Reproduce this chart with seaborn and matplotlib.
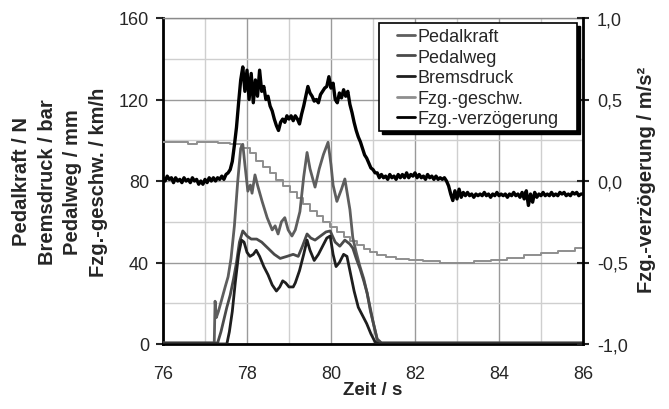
import numpy as np
import matplotlib
matplotlib.use("Agg")
import matplotlib.pyplot as plt
from matplotlib.patches import Rectangle
from matplotlib import font_manager
import seaborn as sns

# ---------------- data ----------------
labels = ["Pedalkraft", "Pedalweg", "Bremsdruck", "Fzg.-geschw.", "Fzg.-verzögerung"]

kraft_t = [76.0, 77.22, 77.24, 77.27, 77.32, 77.40, 77.48, 77.55, 77.62, 77.70, 77.78, 77.85, 77.90,
           77.95, 78.02, 78.08, 78.12, 78.19, 78.25, 78.36, 78.48, 78.60, 78.67, 78.74, 78.82, 78.90,
           78.98, 79.07, 79.15, 79.26, 79.35, 79.43, 79.50, 79.62, 79.72, 79.82, 79.93, 80.00, 80.05,
           80.14, 80.25, 80.33, 80.45, 80.52, 80.60, 80.69, 80.78, 80.86, 80.94, 81.00, 81.10, 81.20, 86.0]
kraft_v = [0.5, 0.5, 21, 13, 16, 22, 28, 33, 42, 58, 80, 96, 98,
           88, 75, 78, 74, 83, 78, 70, 62, 56, 58, 54, 60, 62,
           56, 53, 56, 65, 82, 94, 86, 77, 86, 93, 99, 88, 78,
           70, 76, 81, 66, 52, 45, 38, 32, 25, 16, 11, 2.5, 0.5, 0.5]

weg_t = [76.0, 77.30, 77.38, 77.45, 77.52, 77.60, 77.68, 77.75, 77.82, 77.90, 78.00, 78.10, 78.23,
         78.35, 78.50, 78.65, 78.79, 78.95, 79.10, 79.22, 79.32, 79.43, 79.52, 79.62, 79.75, 79.88,
         79.98, 80.10, 80.21, 80.33, 80.45, 80.52, 80.60, 80.69, 80.78, 80.86, 80.94, 81.00, 81.10,
         81.20, 86.0]
weg_v = [0.5, 0.5, 6, 12, 18, 24, 32, 40, 50, 55.5, 53, 51.5, 51.5,
         50, 47, 44, 42, 43, 44, 43, 48, 54, 52, 51, 53, 55,
         55.5, 50, 48, 51, 49, 47, 42, 37, 31, 25, 17, 11, 2, 0.5, 0.5]

druck_t = [76.0, 77.52, 77.58, 77.65, 77.72, 77.80, 77.87, 77.93, 78.00, 78.07, 78.15, 78.22, 78.30,
           78.40, 78.50, 78.60, 78.70, 78.78, 78.85, 78.92, 79.00, 79.10, 79.15, 79.25, 79.35, 79.43,
           79.50, 79.60, 79.70, 79.80, 79.90, 79.98, 80.05, 80.12, 80.20, 80.30, 80.38, 80.45, 80.55,
           80.65, 80.75, 80.85, 80.95, 81.05, 81.15, 86.0]
druck_v = [0, 0, 6, 16, 30, 44, 51, 50, 45, 43, 44, 46, 43,
           38, 34, 29, 26, 28, 31, 30, 28, 28, 30, 36, 44, 51,
           46, 41, 44, 48, 52, 53, 44, 38, 40, 44, 43, 36, 26,
           18, 14, 10, 5, 1, 0, 0]

geschw_t = [76.0, 76.6, 76.8, 77.3, 77.6, 77.85, 77.90, 78.06, 78.22, 78.38, 78.54, 78.70, 78.86,
            79.02, 79.18, 79.34, 79.50, 79.66, 79.82, 79.98, 80.14, 80.30, 80.46, 80.62, 80.78,
            80.94, 81.10, 81.30, 81.55, 81.85, 82.20, 82.60, 83.00, 83.40, 83.80, 84.20, 84.60,
            85.00, 85.40, 85.80, 86.0]
geschw_v = [99, 98.3, 99, 98.5, 98, 97, 96, 93.5, 90, 87, 84, 80.5, 77.5,
            74.5, 71.5, 68.5, 65.5, 63, 60, 57.5, 55, 52.5, 50.5, 48.5, 46.5,
            45, 43.5, 42.5, 41.5, 41, 40.5, 40, 40, 40.5, 41, 42, 43.5,
            44.5, 45.5, 47, 47.5]

# deceleration in m/s^2, one value every 0.05 s from 76.00 to 86.00
verz_v = [
    0.02, 0.0, 0.03, 0.01, 0.02, -0.01, 0.02, 0.0, 0.01, -0.01, 0.02, 0.0, 0.01, -0.01, 0.02, 0.0, 0.01, -0.02, 0.0, -0.02,
    0.01, -0.01, 0.02, 0.0, 0.02, 0.0, 0.02, 0.01, 0.03, 0.01, 0.04, 0.05, 0.07, 0.12, 0.22, 0.33, 0.48, 0.62, 0.70, 0.55,
    0.68, 0.50, 0.66, 0.48, 0.62, 0.52, 0.68, 0.55, 0.58, 0.50, 0.52, 0.46, 0.43, 0.38, 0.34, 0.31, 0.36, 0.38, 0.36, 0.40,
    0.38, 0.40, 0.37, 0.40, 0.38, 0.35, 0.41, 0.46, 0.52, 0.58, 0.54, 0.52, 0.49, 0.50, 0.48, 0.53, 0.55, 0.57, 0.58, 0.64,
    0.57, 0.60, 0.50, 0.48, 0.54, 0.51, 0.56, 0.52, 0.55, 0.47, 0.42, 0.36, 0.31, 0.27, 0.24, 0.20, 0.16, 0.14, 0.11, 0.08,
    0.07, 0.05, 0.05, 0.02, 0.04, 0.02, 0.03, 0.01, 0.04, 0.02, 0.03, 0.01, 0.04, 0.02, 0.04, 0.02, 0.05, 0.02, 0.04, 0.03,
    0.05, 0.02, 0.04, 0.02, 0.03, 0.01, 0.04, 0.02, 0.03, 0.01, 0.03, 0.01, 0.02, 0.01, 0.02, 0.0, -0.03, -0.08, -0.12, -0.06,
    -0.11, -0.05, -0.10, -0.07, -0.09, -0.07, -0.09, -0.08, -0.10, -0.08, -0.09, -0.08, -0.09, -0.07, -0.09, -0.08, -0.10, -0.08, -0.09, -0.07,
    -0.09, -0.08, -0.09, -0.08, -0.10, -0.08, -0.09, -0.07, -0.09, -0.08, -0.10, -0.07, -0.11, -0.06, -0.15, -0.08, -0.13, -0.07, -0.10, -0.08,
    -0.09, -0.07, -0.09, -0.08, -0.09, -0.07, -0.09, -0.08, -0.09, -0.07, -0.08, -0.07, -0.09, -0.08, -0.09, -0.07, -0.08, -0.07, -0.09, -0.08,
    -0.08,
]
verz_t = list(np.round(np.linspace(76.0, 86.0, len(verz_v)), 2))

x_ticks = [76, 78, 80, 82, 84, 86]
y_ticks = [0, 40, 80, 120, 160]
y2_ticks = [-1.0, -0.5, 0.0, 0.5, 1.0]
y2_ticklabels = ["-1,0", "-0,5", "0,0", "0,5", "1,0"]

# ---------------- style ----------------
sns.set_style("white")
plt.rcParams["font.family"] = ["Liberation Sans", "DejaVu Sans"]
plt.rcParams["axes.unicode_minus"] = False

installed = {f.name for f in font_manager.fontManager.ttflist}
if "Liberation Sans Narrow" in installed:
    leg_family, leg_size = ["Liberation Sans Narrow", "DejaVu Sans"], 15.5
    leg_hl, leg_tp, leg_ls, leg_top = 0.84, 0.14, 0.03, 27
else:
    leg_family, leg_size = ["Liberation Sans", "DejaVu Sans"], 13
    leg_hl, leg_tp, leg_ls, leg_top = 1.0, 0.15, 0.2, 29

W, H = 669, 410
fig = plt.figure(figsize=(W / 100, H / 100), dpi=100)
ax = fig.add_axes([163 / W, 1 - 345 / H, 420 / W, 326 / H])
ax2 = ax.twinx()

colors = ["#5e5e5e", "#4a4a4a", "#1e1e1e", "#8e8e8e", "#000000"]

sns.lineplot(x=geschw_t, y=geschw_v, ax=ax, color=colors[3], lw=1.4, estimator=None, sort=False,
             drawstyle="steps-post", label=labels[3], zorder=3)
sns.lineplot(x=kraft_t, y=kraft_v, ax=ax, color=colors[0], lw=2.0, estimator=None, sort=False,
             label=labels[0], zorder=4)
sns.lineplot(x=weg_t, y=weg_v, ax=ax, color=colors[1], lw=2.0, estimator=None, sort=False,
             label=labels[1], zorder=4)
sns.lineplot(x=druck_t, y=druck_v, ax=ax, color=colors[2], lw=2.0, estimator=None, sort=False,
             label=labels[2], zorder=5)
sns.lineplot(x=verz_t, y=verz_v, ax=ax2, color=colors[4], lw=2.4, estimator=None, sort=False,
             label=labels[4], zorder=5)

ax.set_xlim(76, 86)
ax.set_ylim(0, 160)
ax2.set_ylim(-1, 1)

# grids
ax.set_xticks(x_ticks)
ax.set_xticks([77, 79, 81, 83, 85], minor=True)
ax.set_yticks(y_ticks)
ax.set_yticks([20, 60, 100, 140], minor=True)
ax.grid(True, which="major", color="#9a9a9a", lw=1.0)
ax.grid(True, which="minor", color="#cfcfcf", lw=1.0)
ax.set_axisbelow(True)

ax.tick_params(axis="x", which="major", direction="inout", length=8, width=1.5, labelsize=13, pad=11)
ax.tick_params(axis="y", which="major", direction="out", length=5, width=1.5, labelsize=13, pad=5)
ax.tick_params(which="minor", length=0)
ax.set_xticklabels([str(v) for v in x_ticks])

ax2.set_yticks(y2_ticks)
ax2.set_yticklabels(y2_ticklabels)
ax2.tick_params(axis="y", direction="inout", length=8, width=1.5, labelsize=13, pad=6)

for s in ["left", "bottom"]:
    ax.spines[s].set_color("black")
    ax.spines[s].set_linewidth(2)
ax.spines["top"].set_color("#8a8a8a")
ax.spines["top"].set_linewidth(1)
ax.spines["right"].set_visible(False)
ax2.spines["right"].set_color("black")
ax2.spines["right"].set_linewidth(2)
ax2.spines["top"].set_visible(False)
ax2.spines["left"].set_visible(False)
ax2.spines["bottom"].set_visible(False)

ax.set_xlabel("")
ax.set_ylabel("")
ax2.set_ylabel("")
fig.text(373 / W, 1 - 391 / H, "Zeit / s", ha="center", va="center",
         fontsize=13.5, fontweight="bold")
fig.text(60 / W, 1 - 182 / H, "Pedalkraft / N\nBremsdruck / bar\nPedalweg / mm\nFzg.-geschw. / km/h",
         rotation=90, ha="center", va="center", multialignment="center",
         fontsize=14.5, fontweight="bold", linespacing=1.45)
fig.text(646 / W, 1 - 180 / H, "Fzg.-verzögerung / m/s²", rotation=90, ha="center", va="center",
         fontsize=14.5, fontweight="bold")

# legend frame (box with hard black shadow) drawn in figure coordinates
bx0, bx1, by0, by1 = 379, 577, 24, 132
shadow = Rectangle(((bx0 + 2.5) / W, 1 - (by1 + 2.5) / H), (bx1 - bx0) / W, (by1 - by0) / H,
                   transform=fig.transFigure, facecolor="black", edgecolor="black",
                   lw=1.0, zorder=8, clip_on=False)
frame = Rectangle((bx0 / W, 1 - by1 / H), (bx1 - bx0) / W, (by1 - by0) / H,
                  transform=fig.transFigure, facecolor="white", edgecolor="black",
                  lw=1.2, zorder=9, clip_on=False)
ax2.add_artist(shadow)
ax2.add_artist(frame)

h1, l1 = ax.get_legend_handles_labels()
h2, l2 = ax2.get_legend_handles_labels()
hd = dict(zip(l1 + l2, h1 + h2))
if ax.get_legend() is not None:
    ax.get_legend().remove()
if ax2.get_legend() is not None:
    ax2.get_legend().remove()
leg = ax2.legend([hd[l] for l in labels], labels, loc="upper left",
                 bbox_to_anchor=(397 / W, 1 - leg_top / H), bbox_transform=fig.transFigure,
                 borderaxespad=0, borderpad=0, frameon=False,
                 prop={"family": leg_family, "size": leg_size},
                 handlelength=leg_hl, handletextpad=leg_tp, labelspacing=leg_ls)
for line in leg.get_lines():
    line.set_linewidth(2.0)
leg.set_zorder(10)

fig.savefig("out.png", dpi=100, facecolor="white")
